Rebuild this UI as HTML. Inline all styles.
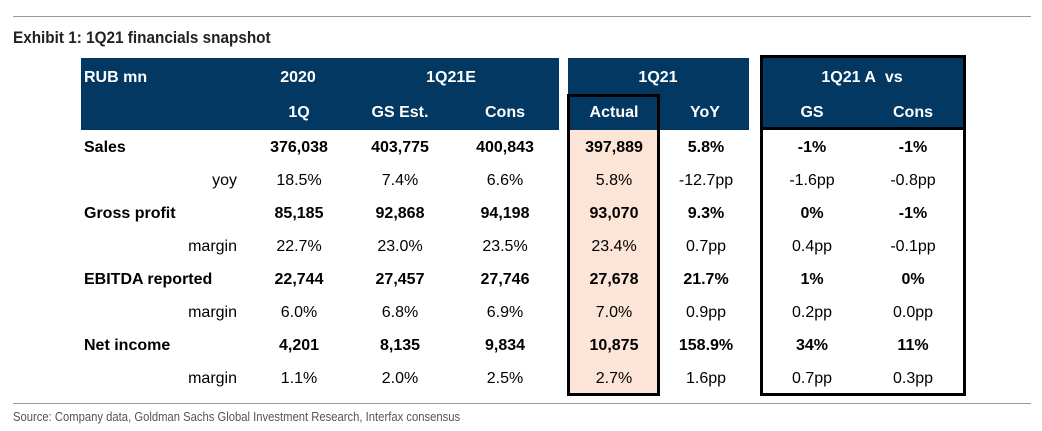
<!DOCTYPE html>
<html><head><meta charset="utf-8"><style>
body{margin:0;width:1042px;height:431px;background:#fff;position:relative;overflow:hidden;font-family:"Liberation Sans",Arial,sans-serif}
.a{position:absolute}
.navy{background:#033862}
.h{position:absolute;color:#fff;font-weight:bold;font-size:16px;transform:translate(-50%,-50%);white-space:nowrap}
.c{position:absolute;font-size:16px;color:#000;transform:translate(-50%,-50%);white-space:nowrap}
.b{font-weight:bold}
</style></head><body>
<div class="a" style="left:13px;top:16px;width:1018px;height:1px;background:#999"></div>
<div class="a" style="left:13px;top:28px;font-family:'Liberation Sans Narrow','Liberation Sans',sans-serif;font-weight:bold;font-size:17px;color:#222;transform:scaleX(0.9);transform-origin:left">Exhibit 1: 1Q21 financials snapshot</div>
<div class="a navy" style="left:81px;top:58px;width:478px;height:72px"></div>
<div class="a navy" style="left:568px;top:58px;width:181px;height:72px"></div>
<div class="a" style="left:567px;top:94px;width:93px;height:302px;background:#fce4d6;box-sizing:border-box;border:3px solid #000"></div>
<div class="a navy" style="left:570px;top:97px;width:87px;height:33px"></div>
<div class="a" style="left:760px;top:55px;width:206px;height:341px;box-sizing:border-box;border:3px solid #000"></div>
<div class="a navy" style="left:763px;top:58px;width:200px;height:72px;border-bottom:3px solid #000;box-sizing:border-box"></div>
<div class="h" style="left:84px;top:78px;transform:translate(0,-50%)">RUB mn</div>
<div class="h" style="left:298px;top:78px">2020</div>
<div class="h" style="left:451px;top:78px">1Q21E</div>
<div class="h" style="left:658px;top:78px">1Q21</div>
<div class="h" style="left:862px;top:78px">1Q21 A&nbsp; vs</div>
<div class="h" style="left:299px;top:113px">1Q</div>
<div class="h" style="left:400px;top:113px">GS Est.</div>
<div class="h" style="left:505px;top:113px">Cons</div>
<div class="h" style="left:614px;top:113px">Actual</div>
<div class="h" style="left:705px;top:113px">YoY</div>
<div class="h" style="left:812px;top:113px">GS</div>
<div class="h" style="left:913px;top:113px">Cons</div>
<div id="body"></div>
<div class="a" style="left:13px;top:403px;width:1018px;height:1px;background:#999"></div>
<div class="a" style="left:13px;top:410px;font-size:12.5px;color:#555;font-family:'Liberation Sans Narrow','Liberation Sans',sans-serif;transform:scaleX(0.9);transform-origin:left">Source: Company data, Goldman Sachs Global Investment Research, Interfax consensus</div>
<script>
const rowLabels=["Sales","yoy","Gross profit","margin","EBITDA reported","margin","Net income","margin"];
const col1Q20=["376,038","18.5%","85,185","22.7%","22,744","6.0%","4,201","1.1%"];
const colGSEst=["403,775","7.4%","92,868","23.0%","27,457","6.8%","8,135","2.0%"];
const colCons=["400,843","6.6%","94,198","23.5%","27,746","6.9%","9,834","2.5%"];
const colActual=["397,889","5.8%","93,070","23.4%","27,678","7.0%","10,875","2.7%"];
const colYoY=["5.8%","-12.7pp","9.3%","0.7pp","21.7%","0.9pp","158.9%","1.6pp"];
const colVsGS=["-1%","-1.6pp","0%","0.4pp","1%","0.2pp","34%","0.7pp"];
const colVsCons=["-1%","-0.8pp","-1%","-0.1pp","0%","0.0pp","11%","0.3pp"];
const cols=[col1Q20,colGSEst,colCons,colActual,colYoY,colVsGS,colVsCons];
const colX=[299,400,505,614,706,812,913];
const body=document.getElementById('body');
rowLabels.forEach((lab,i)=>{
  const y=148+i*33;const bold=i%2===0;
  const l=document.createElement('div');
  l.className='c'+(bold?' b':'');
  l.style.top=y+'px';
  if(bold){l.style.left='84px';l.style.transform='translate(0,-50%)';}
  else{l.style.left='237px';l.style.transform='translate(-100%,-50%)';}
  l.textContent=lab;
  
  
  body.appendChild(l);
  cols.forEach((c,j)=>{
    const d=document.createElement('div');
    d.className='c'+(bold?' b':'');
    d.style.left=colX[j]+'px';d.style.top=y+'px';
    d.textContent=c[i];
    
    
    body.appendChild(d);
  });
});
</script>
</body></html>
